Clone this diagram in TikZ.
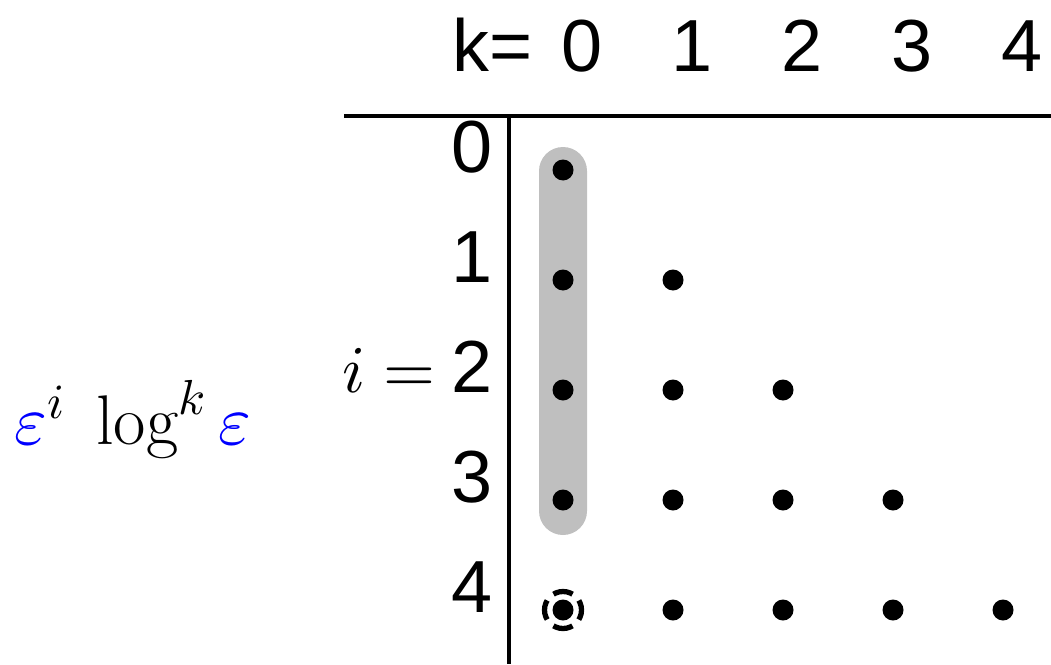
\documentclass[tikz,border=0pt]{standalone}
\usepackage{fontspec}
\setsansfont{Liberation Sans}
\usepackage{xcolor}
\usepackage{tikz}
\usetikzlibrary{positioning}
\DeclareFontShape{OML}{cmm}{m}{it}{<->cmmi10}{}
\DeclareFontShape{OMS}{cmsy}{m}{n}{<->cmsy10}{}
\DeclareFontShape{OT1}{cmr}{m}{n}{<->cmr10}{}

\begin{document}
\begin{tikzpicture}[
  lbl/.style={font=\sffamily\fontsize{42}{46}\selectfont,inner sep=0pt,anchor=base},
  mth/.style={font=\fontsize{38}{42}\selectfont,inner sep=0pt},
  dot/.style={circle,fill=black,inner sep=0pt,minimum size=4.2mm},
  axis/.style={line width=2.2pt},
  ring/.style={line width=3pt,dash pattern=on 0.4cm off 0.18cm,dash phase=0.2cm}]
  \useasboundingbox (0,0) rectangle (21.02,-13.28);
  % column of the leading order
  \fill[black!25,rounded corners=0.48cm] (10.78,-2.94) rectangle (11.74,-10.7);
  % axes
  \coordinate (hl) at (6.88,-2.32);
  \coordinate (hr) at (21.02,-2.32);
  \coordinate (vt) at (10.18,-2.32);
  \coordinate (vb) at (10.18,-13.28);
  \draw[axis] (hl)--(hr);
  \draw[axis] (vt)--(vb);
  % column and row labels
  \node[lbl,anchor=base west] (keq) at (9.04,-1.44) {k=};
  \foreach \k in {0,...,4}
    \node[lbl] (k\k) at (11.64+2.2*\k,-1.44) {\k};
  \foreach \i in {0,...,4}
    \node[lbl,anchor=base east] (i\i) at (9.86,-3.44-2.2*\i) {\i};
  \node[mth,anchor=base east] (ieq) at (8.72,-7.84) {$i=$};
  % terms
  \foreach \i in {0,...,4}{
    \foreach \k in {0,...,\i}{
      \node[dot] (d\i\k) at (11.26+2.2*\k,-3.4-2.2*\i) {};
    }
  }
  \draw[ring] (d40) circle (0.37cm);
  \node[mth,font=\fontsize{40}{44}\selectfont,anchor=base west] (expr) at (0.28,-8.88)
    {$\textcolor{blue}{\varepsilon}^i\;\log^k\textcolor{blue}{\varepsilon}$};
\end{tikzpicture}
\end{document}
